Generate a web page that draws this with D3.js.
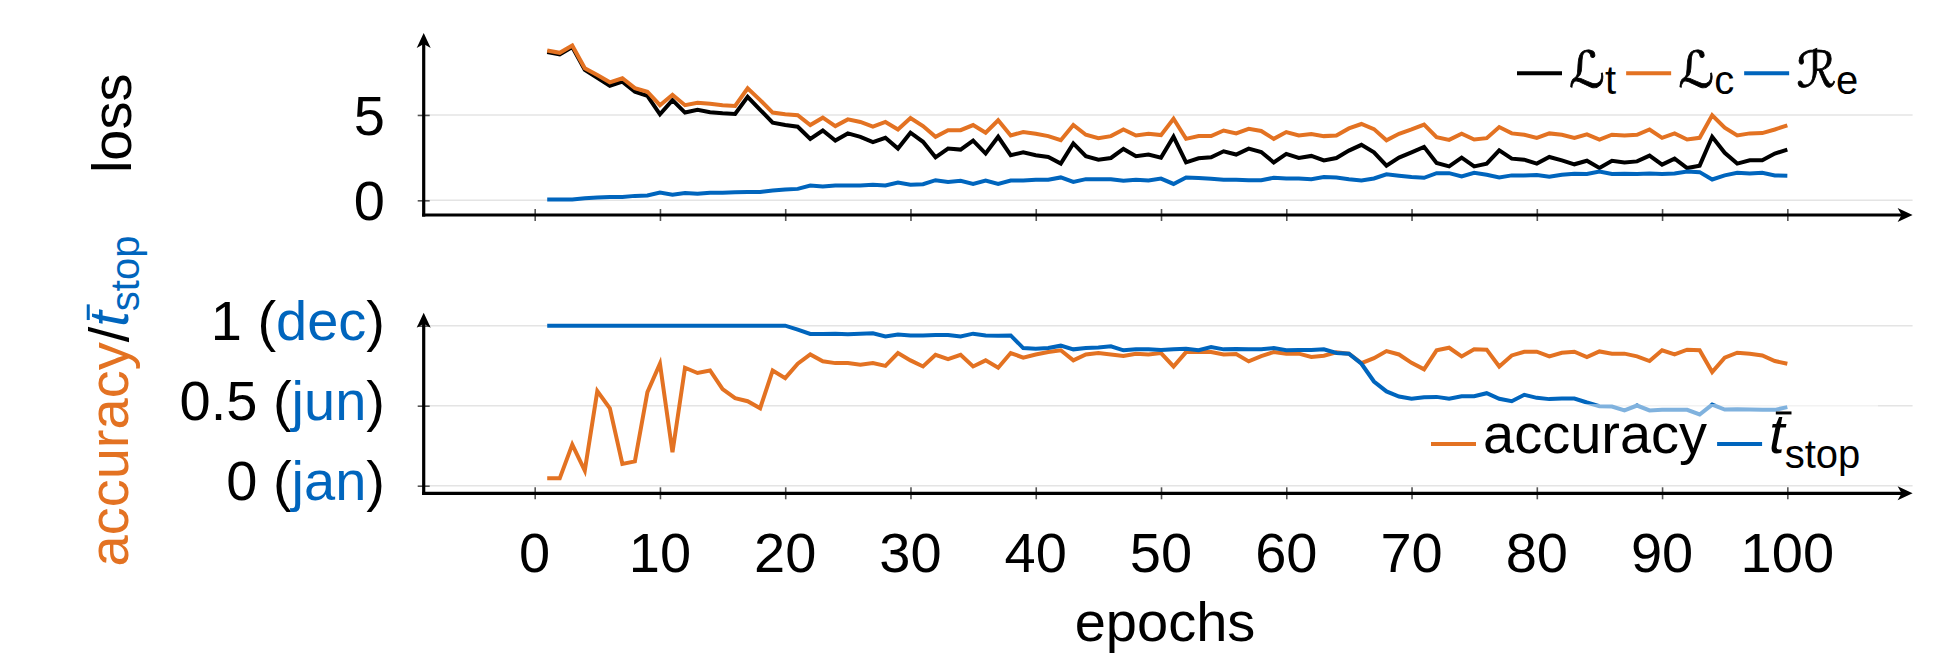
<!DOCTYPE html>
<html>
<head>
<meta charset="utf-8">
<script src="https://cdn.jsdelivr.net/npm/d3@7"></script>
<style>
  html, body { margin: 0; padding: 0; background: #fff; }
  svg { display: block; font-family: 'Liberation Sans', Arial, Helvetica, sans-serif; }
</style>
</head>
<body>
<div id="chart"></div>
<script>
// epochs 1..100 on the x axis
const epochs = d3.range(1, 101)

// loss panel
const lossT = [
  8.68, 8.54, 8.98, 7.64, 7.17, 6.71, 6.95, 6.36, 6.12, 5.04,
  5.87, 5.14, 5.30, 5.16, 5.10, 5.06, 6.06, 5.30, 4.55, 4.41,
  4.31, 3.60, 4.09, 3.50, 3.92, 3.72, 3.41, 3.66, 3.03, 3.96,
  3.43, 2.52, 3.03, 2.97, 3.50, 2.74, 3.72, 2.64, 2.81, 2.64,
  2.54, 2.15, 3.33, 2.58, 2.38, 2.48, 3.01, 2.58, 2.68, 2.50,
  3.72, 2.22, 2.46, 2.52, 2.87, 2.68, 3.03, 2.83, 2.22, 2.72,
  2.48, 2.60, 2.34, 2.48, 2.91, 3.25, 2.81, 2.03, 2.50, 2.81,
  3.13, 2.19, 1.99, 2.50, 1.99, 2.15, 2.93, 2.44, 2.38, 2.15,
  2.54, 2.34, 2.11, 2.32, 1.89, 2.32, 2.22, 2.28, 2.62, 2.09,
  2.44, 1.89, 2.03, 3.72, 2.78, 2.15, 2.34, 2.34, 2.74, 2.97
]
const lossC = [
  8.78, 8.64, 9.07, 7.74, 7.34, 6.91, 7.15, 6.57, 6.36, 5.57,
  6.18, 5.57, 5.71, 5.65, 5.57, 5.53, 6.56, 5.87, 5.14, 5.04,
  4.98, 4.41, 4.84, 4.35, 4.74, 4.59, 4.31, 4.59, 4.15, 4.82,
  4.35, 3.72, 4.11, 4.11, 4.41, 3.96, 4.69, 3.80, 4.00, 3.90,
  3.76, 3.52, 4.41, 3.84, 3.64, 3.76, 4.15, 3.80, 3.90, 3.82,
  4.78, 3.60, 3.76, 3.76, 4.09, 3.92, 4.19, 4.06, 3.60, 4.00,
  3.80, 3.88, 3.76, 3.80, 4.21, 4.47, 4.17, 3.52, 3.90, 4.15,
  4.43, 3.70, 3.54, 3.90, 3.56, 3.64, 4.29, 3.92, 3.84, 3.66,
  3.92, 3.84, 3.66, 3.86, 3.56, 3.84, 3.80, 3.84, 4.15, 3.66,
  3.92, 3.56, 3.66, 4.98, 4.25, 3.80, 3.92, 3.94, 4.15, 4.39
]
const regE = [
  0.05, 0.05, 0.05, 0.12, 0.16, 0.20, 0.20, 0.26, 0.28, 0.45,
  0.33, 0.43, 0.39, 0.45, 0.45, 0.47, 0.49, 0.49, 0.57, 0.63,
  0.67, 0.87, 0.81, 0.87, 0.87, 0.87, 0.91, 0.87, 1.04, 0.91,
  0.94, 1.18, 1.08, 1.14, 0.96, 1.16, 0.96, 1.16, 1.16, 1.20,
  1.20, 1.34, 1.08, 1.24, 1.24, 1.24, 1.14, 1.20, 1.16, 1.27,
  0.96, 1.34, 1.30, 1.26, 1.20, 1.20, 1.18, 1.18, 1.32, 1.28,
  1.28, 1.24, 1.36, 1.34, 1.24, 1.16, 1.28, 1.52, 1.44, 1.36,
  1.32, 1.59, 1.59, 1.40, 1.61, 1.50, 1.34, 1.46, 1.46, 1.48,
  1.38, 1.50, 1.56, 1.54, 1.69, 1.54, 1.56, 1.54, 1.57, 1.54,
  1.57, 1.69, 1.65, 1.22, 1.46, 1.61, 1.57, 1.61, 1.46, 1.44
]

// accuracy / t_stop panel
const accuracy = [
  0.046, 0.046, 0.257, 0.094, 0.591, 0.484, 0.136, 0.152, 0.585, 0.762,
  0.209, 0.737, 0.704, 0.720, 0.603, 0.547, 0.528, 0.484, 0.720, 0.672,
  0.762, 0.820, 0.777, 0.766, 0.766, 0.756, 0.766, 0.749, 0.829, 0.783,
  0.745, 0.818, 0.791, 0.818, 0.745, 0.783, 0.737, 0.829, 0.800, 0.820,
  0.835, 0.846, 0.783, 0.820, 0.829, 0.820, 0.810, 0.825, 0.820, 0.829,
  0.745, 0.835, 0.837, 0.835, 0.820, 0.823, 0.777, 0.810, 0.835, 0.825,
  0.825, 0.804, 0.812, 0.833, 0.825, 0.766, 0.797, 0.841, 0.820, 0.768,
  0.727, 0.846, 0.862, 0.808, 0.852, 0.850, 0.745, 0.814, 0.837, 0.837,
  0.808, 0.831, 0.837, 0.804, 0.839, 0.825, 0.825, 0.808, 0.779, 0.846,
  0.820, 0.850, 0.846, 0.710, 0.800, 0.831, 0.825, 0.814, 0.779, 0.762
]
const tStop = [
  1.000, 1.000, 1.000, 1.000, 1.000, 1.000, 1.000, 1.000, 1.000, 1.000,
  1.000, 1.000, 1.000, 1.000, 1.000, 1.000, 1.000, 1.000, 1.000, 1.000,
  0.975, 0.948, 0.948, 0.950, 0.946, 0.950, 0.952, 0.933, 0.944, 0.939,
  0.939, 0.942, 0.942, 0.933, 0.950, 0.939, 0.937, 0.939, 0.860, 0.856,
  0.860, 0.875, 0.852, 0.860, 0.864, 0.871, 0.846, 0.852, 0.852, 0.848,
  0.852, 0.856, 0.846, 0.866, 0.852, 0.854, 0.852, 0.852, 0.860, 0.846,
  0.848, 0.848, 0.852, 0.829, 0.825, 0.762, 0.651, 0.589, 0.557, 0.543,
  0.553, 0.555, 0.543, 0.559, 0.559, 0.578, 0.543, 0.528, 0.568, 0.549,
  0.541, 0.545, 0.545, 0.520, 0.497, 0.495, 0.470, 0.501, 0.470, 0.474,
  0.474, 0.474, 0.445, 0.507, 0.476, 0.478, 0.476, 0.474, 0.474, 0.491
]

// ticks
const xTicks = [0, 10, 20, 30, 40, 50, 60, 70, 80, 90, 100]
const lossTicks = [0, 5]
const accTicks = [0, 0.5, 1]
const accMonths = ['jan', 'jun', 'dec']

const black = '#000000'
const orange = '#E37222'
const blue = '#0065BD'
const FS = 56
const SUB = 40

const width = 1954
const height = 655
const svg = d3
  .select('#chart')
  .append('svg')
  .attr('width', width)
  .attr('height', height)

const x = d3.scaleLinear().domain([-8.86, 110]).range([423.7, 1912.6])
const yLoss = d3.scaleLinear().domain([-0.86, 9.8]).range([215, 33])
const yAcc = d3.scaleLinear().domain([-0.0475, 1.081]).range([493.3, 312.7])

// text built from pieces, each piece its own <text>
function rich(parent, parts, px, py, anchor) {
  const g = parent.append('g')
  let cx = 0
  parts.forEach(p => {
    const size = p.size || FS
    const t = g
      .append('text')
      .attr('x', cx)
      .attr('y', p.dy || 0)
      .attr('font-size', size)
      .attr('fill', p.color || black)
      .attr('font-style', p.italic ? 'italic' : null)
      .attr('font-family', p.font || null)
      .text(p.text)
    if (p.bold) {
      t.attr('stroke', p.color || black).attr('stroke-width', p.bold)
    }
    const w = t.node().getComputedTextLength()
    if (p.bar) {
      g.append('line')
        .attr('x1', cx + size * 0.12)
        .attr('x2', cx + size * 0.4)
        .attr('y1', -size * 0.71)
        .attr('y2', -size * 0.71)
        .attr('stroke', p.color || black)
        .attr('stroke-width', 3)
    }
    cx += w + (p.gap || 0)
  })
  let shift = 0
  if (anchor === 'end') shift = -cx
  if (anchor === 'middle') shift = -cx / 2
  g.attr('transform', 'translate(' + (px + shift) + ',' + py + ')')
  return g
}

function drawPanel(yScale, ticks) {
  const [x0, x1] = x.range()
  const [yb, yt] = yScale.range()

  svg
    .append('g')
    .selectAll('line')
    .data(ticks)
    .join('line')
    .attr('x1', x0)
    .attr('x2', x1)
    .attr('y1', d => yScale(d))
    .attr('y2', d => yScale(d))
    .attr('stroke', '#e4e4e4')
    .attr('stroke-width', 1.5)

  const xa = svg
    .append('g')
    .attr('transform', 'translate(0,' + yb + ')')
    .call(d3.axisBottom(x).tickValues(xTicks).tickSize(6).tickFormat(''))
  xa.select('.domain').remove()
  xa.selectAll('.tick line')
    .attr('y1', -6)
    .attr('y2', 6)
    .attr('stroke', '#555')
    .attr('stroke-width', 1.6)

  const ya = svg
    .append('g')
    .attr('transform', 'translate(' + x0 + ',0)')
    .call(d3.axisLeft(yScale).tickValues(ticks).tickSize(6).tickFormat(''))
  ya.select('.domain').remove()
  ya.selectAll('.tick line')
    .attr('x1', -6)
    .attr('x2', 6)
    .attr('stroke', '#555')
    .attr('stroke-width', 1.6)

  // axis lines with arrow heads
  svg
    .append('path')
    .attr('d', 'M' + x0 + ',' + (yb + 1.6) + 'V' + (yt + 10))
    .attr('stroke', black)
    .attr('stroke-width', 3.2)
    .attr('fill', 'none')
  svg
    .append('path')
    .attr('d', 'M' + (x0 - 1.6) + ',' + yb + 'H' + (x1 - 10))
    .attr('stroke', black)
    .attr('stroke-width', 3.2)
    .attr('fill', 'none')
  svg
    .append('path')
    .attr('d', 'M' + x0 + ',' + yt + 'L' + (x0 - 7) + ',' + (yt + 15) + 'L' + x0 + ',' + (yt + 11) + 'L' + (x0 + 7) + ',' + (yt + 15) + 'Z')
    .attr('fill', black)
  svg
    .append('path')
    .attr('d', 'M' + x1 + ',' + yb + 'L' + (x1 - 15) + ',' + (yb - 7) + 'L' + (x1 - 11) + ',' + yb + 'L' + (x1 - 15) + ',' + (yb + 7) + 'Z')
    .attr('fill', black)
}

function drawSeries(values, yScale, color) {
  const line = d3
    .line()
    .x((d, i) => x(epochs[i]))
    .y(d => yScale(d))
  svg
    .append('path')
    .datum(values)
    .attr('d', line)
    .attr('fill', 'none')
    .attr('stroke', color)
    .attr('stroke-width', 4)
    .attr('stroke-linejoin', 'miter')
}

function legend(box, entries, lineY, textY) {
  svg
    .append('rect')
    .attr('x', box[0])
    .attr('y', box[1])
    .attr('width', box[2])
    .attr('height', box[3])
    .attr('fill', '#fff')
    .attr('fill-opacity', 0.5)
  let cx = box[0] + 11
  entries.forEach(e => {
    svg
      .append('line')
      .attr('x1', cx)
      .attr('x2', cx + 45)
      .attr('y1', lineY)
      .attr('y2', lineY)
      .attr('stroke', e.color)
      .attr('stroke-width', 4)
    cx += 45 + 7
    const g = rich(svg, e.parts, cx, textY, 'start')
    cx += g.node().getBBox().width + 10
  })
}

// top panel
drawPanel(yLoss, lossTicks)
drawSeries(lossT, yLoss, black)
drawSeries(lossC, yLoss, orange)
drawSeries(regE, yLoss, blue)

// bottom panel
drawPanel(yAcc, accTicks)
drawSeries(accuracy, yAcc, orange)
drawSeries(tStop, yAcc, blue)

// tick labels
svg
  .append('g')
  .selectAll('text')
  .data(lossTicks)
  .join('text')
  .attr('x', 385)
  .attr('y', d => yLoss(d) + 20)
  .attr('text-anchor', 'end')
  .attr('font-size', FS)
  .text(d => d)

accTicks.forEach((d, i) => {
  rich(svg, [
    { text: d + ' (' },
    { text: accMonths[i], color: blue },
    { text: ')' }
  ], 385, yAcc(d) + 14.5, 'end')
})

svg
  .append('g')
  .selectAll('text')
  .data(xTicks)
  .join('text')
  .attr('x', d => x(d))
  .attr('y', 572)
  .attr('text-anchor', 'middle')
  .attr('font-size', FS)
  .text(d => d)

// axis titles
svg
  .append('text')
  .attr('transform', 'translate(131,123.3) rotate(-90)')
  .attr('text-anchor', 'middle')
  .attr('font-size', FS)
  .text('loss')

const accLabel = svg.append('g').attr('transform', 'translate(128,401) rotate(-90)')
rich(accLabel, [
  { text: 'accuracy', color: orange },
  { text: '/' },
  { text: 't', color: blue, italic: true, bar: true },
  { text: 'stop', color: blue, size: SUB, dy: 11 }
], 0, 0, 'middle')

svg
  .append('text')
  .attr('x', 1165)
  .attr('y', 641)
  .attr('text-anchor', 'middle')
  .attr('font-size', FS)
  .text('epochs')

// legends
const mathFont = 'DejaVu Sans'
legend([1506, 44, 372, 62], [
  { color: black, parts: [{ text: 'ℒ', font: mathFont, size: 50, bold: 0.8 }, { text: 't', size: SUB, dy: 7 }] },
  { color: orange, parts: [{ text: 'ℒ', font: mathFont, size: 50, bold: 0.8, color: black }, { text: 'c', size: SUB, dy: 7 }] },
  { color: blue, parts: [{ text: 'ℛ', font: mathFont, size: 50, bold: 0.8 }, { text: 'e', size: SUB, dy: 7 }] }
], 73.3, 87)

legend([1420, 404, 458, 78], [
  { color: orange, parts: [{ text: 'accuracy' }] },
  { color: blue, parts: [{ text: 't', italic: true, bar: true }, { text: 'stop', size: SUB, dy: 15 }] }
], 444, 452.7)
</script>
</body>
</html>
